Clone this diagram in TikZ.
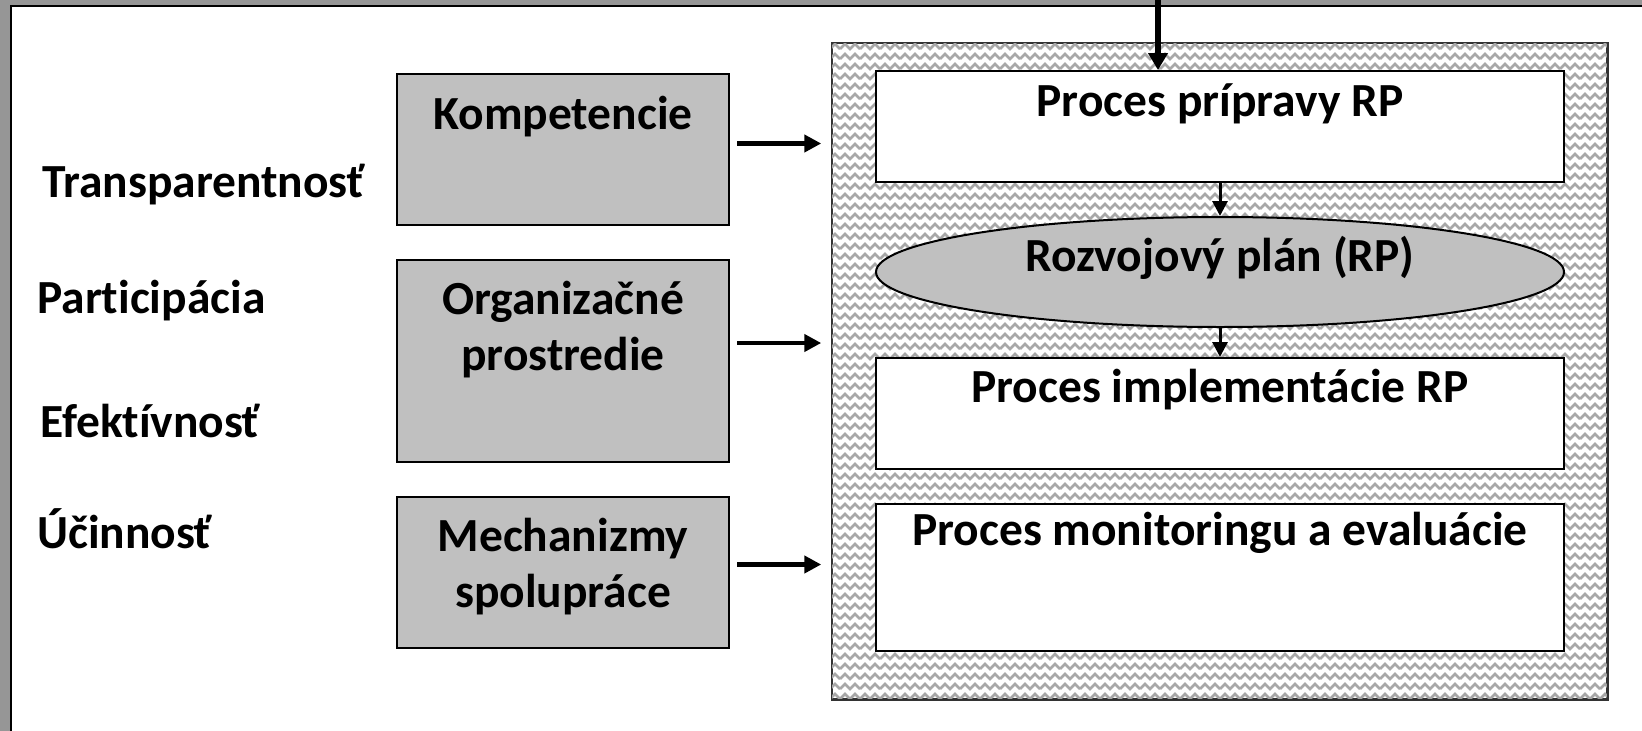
\documentclass[tikz,border=0pt]{standalone}
\usepackage{fontspec}
\setmainfont{Carlito}[Ligatures={NoCommon}]
\usetikzlibrary{arrows.meta,shapes.geometric,patterns}
\definecolor{framegray}{HTML}{969696}
\definecolor{boxgray}{HTML}{C0C0C0}
\definecolor{patgray}{HTML}{A8A8A8}
\pgfdeclarepatterninherentlycolored{weave}{\pgfpoint{-1pt}{-1pt}}{\pgfpoint{21pt}{21pt}}{\pgfpoint{20pt}{20pt}}{%
  \pgfsetcolor{patgray}\pgfsetlinewidth{2.6pt}%
  \pgfpathmoveto{\pgfpoint{0pt}{2pt}}\pgfpathlineto{\pgfpoint{5pt}{7pt}}\pgfpathlineto{\pgfpoint{10pt}{2pt}}\pgfpathlineto{\pgfpoint{15pt}{7pt}}\pgfpathlineto{\pgfpoint{20pt}{2pt}}%
  \pgfpathmoveto{\pgfpoint{0pt}{12pt}}\pgfpathlineto{\pgfpoint{5pt}{17pt}}\pgfpathlineto{\pgfpoint{10pt}{12pt}}\pgfpathlineto{\pgfpoint{15pt}{17pt}}\pgfpathlineto{\pgfpoint{20pt}{12pt}}%
  \pgfusepath{stroke}}
\tikzset{
  txt/.style={font=\fontsize{47.5}{56}\selectfont\bfseries, inner sep=0pt, align=center},
  graybox/.style={draw=black, line width=2pt, fill=boxgray, inner sep=0pt},
  whitebox/.style={draw=black, line width=2pt, fill=white, inner sep=0pt, minimum width=688pt},
  arr/.style={line width=4.5pt, -{Triangle[length=17pt,width=17pt]}, shorten >=10pt},
  smallarr/.style={line width=3pt, -{Triangle[length=15pt,width=15pt]}},
  bigarr/.style={line width=5.5pt, -{Triangle[length=17pt,width=19pt]}}
}
\begin{document}
\begin{tikzpicture}[x=1pt,y=-1pt]
\useasboundingbox (0,0) rectangle (1642,731);
\fill[framegray] (0,0) rectangle (1642,731);
\draw[line width=2pt, fill=white] (11,6) rectangle (1660,750);

% outer patterned box
\node[draw=black!80, line width=1.5pt, fill=white, minimum width=775pt, minimum height=656pt, inner sep=0pt] (outer) at (1219.5,371) {};
\fill[pattern=weave] (outer.south west) rectangle (outer.north east);
\draw[black!80, line width=1.5pt] (outer.south west) rectangle (outer.north east);

% right column
\node[whitebox, minimum height=111pt] (p1) at (1220,126.5) {};
\node[ellipse, draw=black, line width=2pt, fill=boxgray, minimum width=688pt, minimum height=110pt, inner sep=0pt] (rp) at (1220,272) {};
\node[whitebox, minimum height=111pt] (p3) at (1220,413.5) {};
\node[whitebox, minimum height=147pt] (p4) at (1220,577.5) {};

\node[txt, anchor=base] (p1t) at (1220,116) {Proces prípravy RP};
\node[txt, anchor=base] (rpt) at (1220,271) {Rozvojový plán (RP)};
\node[txt, anchor=base] (p3t) at (1220,402) {Proces implementácie RP};
\node[txt, anchor=base] (p4t) at (1220,545) {Proces monitoringu a evaluácie};

% left gray boxes
\node[graybox, minimum width=332pt, minimum height=151pt] (k) at (563,149.5) {};
\node[graybox, minimum width=332pt, minimum height=202pt] (o) at (563,361) {};
\node[graybox, minimum width=332pt, minimum height=151pt] (m) at (563,572.5) {};

\node[txt, anchor=base] (kt) at (563,129) {Kompetencie};
\node[txt, anchor=base] (ot) at (563,370) {Organizačné\\prostredie};
\node[txt, anchor=base] (mt) at (563,607) {Mechanizmy\\spolupráce};

% left labels
\node[txt, anchor=base west] (l1) at (42,197) {Transparentnosť};
\node[txt, anchor=base west] (l2) at (37,313) {Participácia};
\node[txt, anchor=base west] (l3) at (40,437) {Efektívnosť};
\node[txt, anchor=base west] (l4) at (37,548) {Účinnosť};

% arrows
\coordinate (ka) at ([xshift=7pt,yshift=6pt]k.east);
\coordinate (oa) at ([xshift=7pt,yshift=18pt]o.east);
\coordinate (ma) at ([xshift=7pt,yshift=8pt]m.east);
\draw[arr] (ka) -- (ka -| outer.west);
\draw[arr] (oa) -- (oa -| outer.west);
\draw[arr] (ma) -- (ma -| outer.west);

\coordinate (top) at (1158,-5);
\draw[bigarr] (top) -- (top |- p1.north);
\draw[smallarr] (p1.south) -- (rp.north);
\draw[smallarr] (rp.south) -- (p3.north);
\end{tikzpicture}
\end{document}
